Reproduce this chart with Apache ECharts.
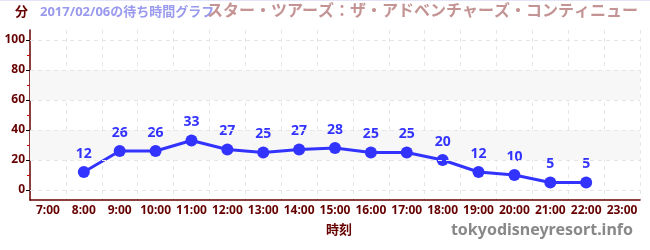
<!DOCTYPE html>
<html><head><meta charset="utf-8">
<script src="https://cdn.jsdelivr.net/npm/echarts@6/dist/echarts.min.js"></script>
<style>html,body{margin:0;padding:0;background:#fff}#c{width:650px;height:250px}</style>
</head><body><div id="c"></div>
<script>
const categories = ['7:00','8:00','9:00','10:00','11:00','12:00','13:00','14:00','15:00','16:00','17:00','18:00','19:00','20:00','21:00','22:00','23:00'];
const waitTimes = [null,12,26,26,33,27,25,27,28,25,25,20,12,10,5,5,null];
const yMajor = [0,20,40,60,80,100];
const yMinor = [10,30,50,70,90];
const bands = [[20,40],[60,80]];
const titleText = 'スター・ツアーズ：ザ・アドベンチャーズ・コンティニュー';
const subText = '2017/02/06の待ち時間グラフ';
const FONT = '"Noto Sans","Noto Sans CJK JP",sans-serif';

const chart = echarts.init(document.getElementById('c'));
chart.setOption({
  animation:false,
  textStyle:{fontFamily:FONT},
  graphic:[
    {type:'rect',shape:{x:0,y:0,width:650,height:1},style:{fill:'#e4e4f8'}},
    {type:'text',left:15,top:6,style:{text:'分',fill:'#660000',font:'bold 13px '+FONT}},
    {type:'text',left:40,top:6,style:{text:subText,fill:'#9999ee',font:'bold 13px '+FONT}},
    {type:'text',right:12,top:3,style:{text:titleText,fill:'#c49494',font:'bold 16px '+FONT}},
    {type:'text',left:326,top:224,style:{text:'時刻',fill:'#660000',font:'bold 13px '+FONT}},
    {type:'text',right:17,top:222,style:{text:'tokyodisneyresort.info',fill:'#888888',font:'bold 16px '+FONT}}
  ],
  grid:{left:30,right:10,top:30,bottom:50},
  xAxis:{type:'category',data:categories,boundaryGap:true,
    axisLine:{onZero:false,lineStyle:{color:'#660000',width:1.5}},
    axisTick:{alignWithLabel:true,length:4,lineStyle:{color:'#444'}},
    axisLabel:{color:'#660000',fontWeight:'bold',fontSize:12,margin:5,interval:0},
    splitLine:{show:true,interval:0,lineStyle:{color:'#e6e6e6',type:[4,4]}}
  },
  yAxis:[{type:'value',min:-20/3,max:320/3,
    axisLine:{show:true,onZero:false,lineStyle:{color:'#660000',width:1.5}},
    axisTick:{show:true,customValues:yMajor,length:4,lineStyle:{color:'#000'}},
    axisLabel:{customValues:yMajor,color:'#660000',fontWeight:'bold',fontSize:12,margin:5},
    splitLine:{show:false},splitArea:{show:false}
  },{type:'value',min:-20/3,max:320/3,position:'left',
    axisLine:{show:false},
    axisTick:{show:true,customValues:yMinor,length:3,lineStyle:{color:'#cc0000'}},
    axisLabel:{show:false},splitLine:{show:false}
  }],
  series:[{type:'line',data:waitTimes,connectNulls:false,
    lineStyle:{color:'#3333ff',width:3},itemStyle:{color:'#3333ff'},
    symbol:'circle',symbolSize:12,
    label:{show:true,position:'top',distance:5,color:'#3333ff',fontWeight:'bold',fontSize:14},
    markArea:{silent:true,itemStyle:{color:'#f7f7f7'},data:bands.map(b=>[{yAxis:b[0]},{yAxis:b[1]}])},
    markLine:{silent:true,symbol:'none',label:{show:false},lineStyle:{color:'#e6e6e6',type:[4,4],width:1},
      data:yMajor.concat([320/3]).map(v=>({yAxis:v}))}
  }]
});
</script></body></html>
